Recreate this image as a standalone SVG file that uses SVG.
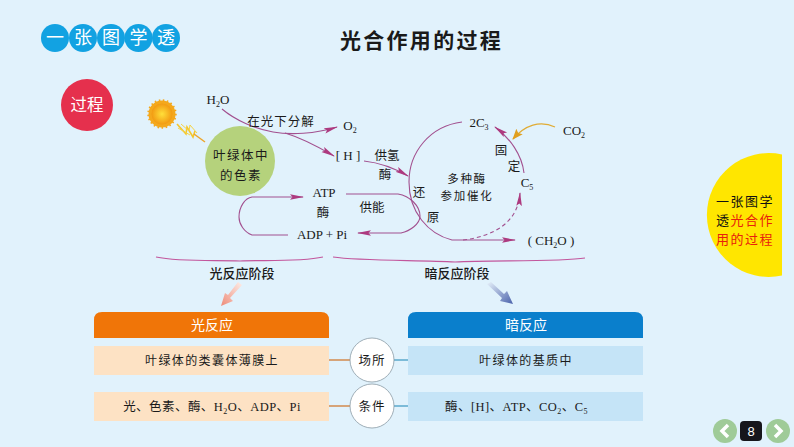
<svg xmlns="http://www.w3.org/2000/svg" width="794" height="447" viewBox="0 0 794 447">
<style>
.cjk{font-family:"Noto Sans CJK SC","Noto Sans",sans-serif;fill:#1a1a1a;text-anchor:middle}
.s{font-family:"Liberation Serif","Noto Sans CJK SC",serif;fill:#1a1a1a;text-anchor:middle;font-size:13px}
.m{font-family:"Liberation Serif","Noto Sans CJK SC",serif;fill:#1a1a1a;text-anchor:middle;font-size:12.5px;letter-spacing:.45px}
.l{fill:none;stroke:#a2508f;stroke-width:1.1}
.a{marker-end:url(#arr)}
.hc{fill:#12a2e2}
.ht{font-family:"Noto Sans CJK SC",sans-serif;fill:#fff;font-size:18px;text-anchor:middle}
.h{font-family:"Noto Sans CJK SC",sans-serif;fill:#fff;font-size:14px;text-anchor:middle}
.rc{fill:#fff;stroke:#8a9aa5;stroke-width:.8}
</style>
<defs>
<marker id="arr" markerUnits="userSpaceOnUse" markerWidth="16" markerHeight="8" refX="13" refY="4" orient="auto"><path d="M0 1.2L14 4L0 6.8L2.5 4Z" fill="#ad3a7f"/></marker>
<marker id="arrG" markerUnits="userSpaceOnUse" markerWidth="14" markerHeight="10" refX="10" refY="5" orient="auto"><path d="M0 .8L11 5L0 9.2L2 5Z" fill="#e0a020"/></marker>
<linearGradient id="pk" x1="1" y1="0" x2="0" y2="1"><stop offset="0" stop-color="#fdeee8"/><stop offset="1" stop-color="#ee8b78"/></linearGradient>
<linearGradient id="bl" x1="0" y1="0" x2="1" y2="1"><stop offset="0" stop-color="#e6f1fa"/><stop offset="1" stop-color="#4a62ab"/></linearGradient>
<radialGradient id="sun"><stop offset="0" stop-color="#ffdf3a"/><stop offset="1" stop-color="#f29a12"/></radialGradient>
</defs>
<rect width="794" height="447" fill="#e1f2fc"/>

<g id="badge">
<circle class="hc" cx="55" cy="38" r="14"/><circle class="hc" cx="83" cy="38" r="14"/><circle class="hc" cx="111" cy="38" r="14"/><circle class="hc" cx="138.500" cy="38" r="14"/><circle class="hc" cx="166" cy="38" r="14"/>
<text class="ht" x="55" y="44">一</text><text class="ht" x="83" y="44">张</text><text class="ht" x="111" y="44">图</text><text class="ht" x="138.500" y="44">学</text><text class="ht" x="166" y="44">透</text>
</g>
<text id="title" class="cjk" x="421.500" y="48" font-size="21" font-weight="700" letter-spacing="2.300" fill="#111">光合作用的过程</text>

<g id="process"><circle cx="87" cy="105" r="26" fill="#e5304d"/><text class="h" x="87" y="111" style="font-size:16.500px">过程</text></g>

<g id="sun-icon">
<circle cx="162" cy="114" r="13.500" fill="#f4a81c" stroke="#f4a81c" stroke-width="2.500" stroke-dasharray="1.500 2.500"/>
<circle cx="162" cy="114" r="10.500" fill="url(#sun)"/>
<path d="M177 124L186 134L187 127L193 137L195 131" fill="none" stroke="#f3c62d" stroke-width="1.600"/>
<path d="M181 124L189 131L190 125L197 133M178 128L190 135" fill="none" stroke="#f6d445" stroke-width="1"/>
<path d="M194 134L205 142" fill="none" stroke="#eda52a" stroke-width="1.500"/>
</g>

<g id="pigment"><circle cx="240" cy="161" r="35" fill="#b5d27c"/>
<text class="cjk" x="241" y="160" font-size="12.500" letter-spacing="1.500">叶绿体中</text>
<text class="cjk" x="241" y="180" font-size="12.500" letter-spacing="1.500">的色素</text></g>

<g id="connectors">
<path class="l a" d="M222 109C235 120 255 129 273 132C290 135 315 134 337 127"/>
<path class="l a" d="M285 133C305 139 320 148 334 156"/>
<path class="l a" d="M364 161C382 163 396 169 408 176"/>
<path class="l a" d="M288 235H252C244 232 239 224 239 217C239 207 245 198 252 197H303"/>
<path class="l a" d="M346 194H398C410 196 420 206 420 216C420 224 410 231 401 233H358"/>
<path class="l a" d="M462 122C430 126 409 152 409 182C409 212 428 234 452 240H515"/>
<path class="l a" d="M524 173C522 155 510 138 495 127"/>
<path fill="none" stroke="#e0ac35" stroke-width="1.200" marker-end="url(#arrG)" d="M555 127C540 120 525 125 513 139"/>
<path class="l a" stroke-dasharray="4 3" d="M463 240C495 236 518 222 520 193"/>
<path d="M156 257C180 262 215 260 240 261C265 260 300 262 323 257" fill="none" stroke="#c2569c" stroke-width="1.200"/>
<path d="M333 257C360 261 420 260 455 262C490 260 560 262 585 258" fill="none" stroke="#c2569c" stroke-width="1.200"/>
<path d="M329 360H350" stroke="#d28a4e" stroke-width="1.500"/>
<path d="M329 406H350" stroke="#d28a4e" stroke-width="1.500"/>
<path d="M394 360H408" stroke="#5aa9cc" stroke-width="1.500"/>
<path d="M394 406H408" stroke="#5aa9cc" stroke-width="1.500"/>
</g>

<g id="labels">
<text class="s" x="218" y="104">H<tspan font-size="8" dy="3">2</tspan><tspan dy="-3">O</tspan></text>
<text class="cjk" x="281" y="126" font-size="12.500" letter-spacing="1">在光下分解</text>
<text class="s" x="350" y="130">O<tspan font-size="8" dy="3">2</tspan></text>
<text class="s" x="348" y="160">[ H ]</text>
<text class="cjk" x="387" y="160" font-size="12.500">供氢</text>
<text class="cjk" x="385" y="179" font-size="12.500">酶</text>
<text class="s" x="324" y="197">ATP</text>
<text class="cjk" x="323" y="217" font-size="12.500">酶</text>
<text class="cjk" x="372" y="212" font-size="12.500">供能</text>
<text class="s" x="322" y="239">ADP + Pi</text>
<text class="cjk" x="419" y="197" font-size="12.500">还</text>
<text class="cjk" x="433" y="222" font-size="12.500">原</text>
<text class="cjk" x="467" y="183" font-size="11.500" letter-spacing="1.700">多种酶</text>
<text class="cjk" x="467" y="200" font-size="11.500" letter-spacing="1.700">参加催化</text>
<text class="s" x="479" y="127">2C<tspan font-size="8" dy="3">3</tspan></text>
<text class="cjk" x="501" y="155" font-size="12.500">固</text>
<text class="cjk" x="514" y="171" font-size="12.500">定</text>
<text class="s" x="527" y="187">C<tspan font-size="8" dy="3">5</tspan></text>
<text class="s" x="574" y="135">CO<tspan font-size="8" dy="3">2</tspan></text>
<text class="s" x="551" y="245">( CH<tspan font-size="8" dy="3">2</tspan><tspan dy="-3">O )</tspan></text>
<text class="cjk" x="242" y="278" font-size="13" font-weight="500">光反应阶段</text>
<text class="cjk" x="457" y="278" font-size="13" font-weight="500">暗反应阶段</text>
</g>

<g id="arrows-down">
<path d="M238 282L242 285L230 298L233 301L221 306L225 293L228 295Z" fill="url(#pk)"/>
<path d="M487 284L491 282L504 294L507 291L513 304L500 301L502 298Z" fill="url(#bl)"/>
</g>

<g id="light">
<path d="M94 338V320Q94 312 102 312H321Q329 312 329 320V338Z" fill="#f07508"/>
<text class="h" x="212" y="330">光反应</text>
<rect x="94" y="346" width="235" height="29" fill="#fde2c4"/>
<text class="cjk" x="212" y="365" font-size="12" letter-spacing="1.400">叶绿体的类囊体薄膜上</text>
<rect x="94" y="392" width="235" height="29" fill="#fde2c4"/>
<text class="m" x="212" y="411">光、色素、酶、H<tspan font-size="8" dy="3">2</tspan><tspan dy="-3">O、ADP、Pi</tspan></text>
</g>

<g id="dark">
<path d="M408 338V320Q408 312 416 312H635Q643 312 643 320V338Z" fill="#0a7fcc"/>
<text class="h" x="526" y="330">暗反应</text>
<rect x="408" y="346" width="235" height="29" fill="#c5e4f7"/>
<text class="cjk" x="526" y="365" font-size="12" letter-spacing="1.400">叶绿体的基质中</text>
<rect x="408" y="392" width="235" height="29" fill="#c5e4f7"/>
<text class="m" x="516.500" y="411">酶、[H]、ATP、CO<tspan font-size="8" dy="3">2</tspan><tspan dy="-3">、C</tspan><tspan font-size="8" dy="3">5</tspan></text>
</g>

<g id="site"><circle class="rc" cx="372" cy="360" r="22"/><text class="cjk" x="372" y="365" font-size="12.500" letter-spacing="1">场所</text></g>
<g id="cond"><circle class="rc" cx="372" cy="406" r="22"/><text class="cjk" x="372" y="411" font-size="12.500" letter-spacing="1">条件</text></g>

<g id="side">
<path d="M782 154.400A62 62 0 1 0 782 275.600Z" fill="#ffe600"/>
<text class="cjk" x="745" y="206" font-size="13" letter-spacing="1.500" style="fill:#111">一张图学</text>
<text class="cjk" x="745" y="225" font-size="13" letter-spacing="1.500" style="fill:#e8200c"><tspan style="fill:#111">透</tspan>光合作</text>
<text class="cjk" x="745" y="244" font-size="13" letter-spacing="1.500" style="fill:#e8200c">用的过程</text>
</g>

<g id="nav">
<circle cx="725" cy="431" r="12" fill="#9fcb98"/><path d="M728 425L722 431L728 437" fill="none" stroke="#fff" stroke-width="3.500"/>
<rect x="740" y="421" width="22" height="20" rx="4" fill="#16161c"/>
<text x="751" y="436" font-family="Liberation Sans,sans-serif" font-size="13" fill="#fff" text-anchor="middle">8</text>
<circle cx="778" cy="431" r="12" fill="#9fcb98"/><path d="M775 425L781 431L775 437" fill="none" stroke="#fff" stroke-width="3.500"/>
</g>
</svg>
